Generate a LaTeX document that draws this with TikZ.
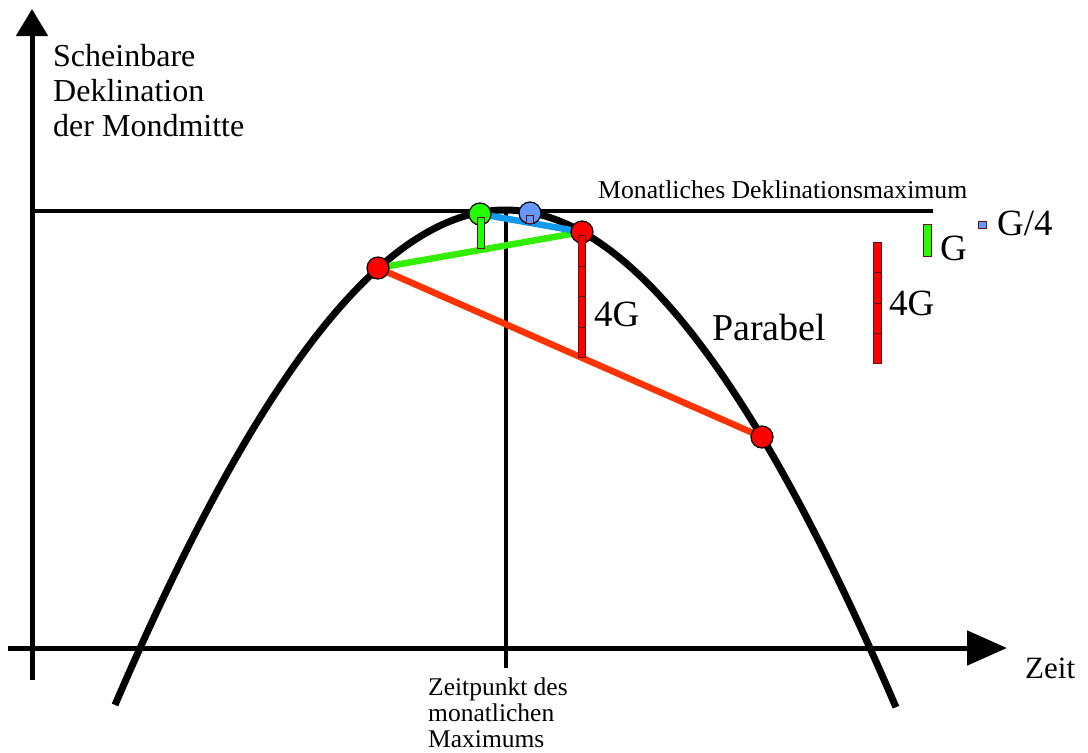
\documentclass[tikz,border=0pt]{standalone}
\usepackage{fontspec}
\setmainfont{Liberation Serif}
\usetikzlibrary{arrows.meta}
\definecolor{ptred}{HTML}{FF0000}
\definecolor{chordred}{HTML}{FF3300}
\definecolor{chordgreen}{HTML}{33EE00}
\definecolor{ptgreen}{HTML}{22FF00}
\definecolor{chordblue}{HTML}{1199EE}
\definecolor{ptblue}{HTML}{6699FF}
\definecolor{barline}{HTML}{661111}
\begin{document}
\begin{tikzpicture}[x=1pt,y=-1pt,
  axis/.style={line width=5pt},
  guide/.style={line width=3.5pt},
  curve/.style={line width=7pt},
  chord/.style={line width=6.5pt},
  dot/.style={circle,draw=black,line width=1.2pt,minimum size=22pt,inner sep=0pt},
  bar/.style={draw=barline,line width=0.8pt},
  lbl/.style={anchor=base west,inner sep=0pt},
  big/.style={font=\fontsize{37}{40}\selectfont},
]
\useasboundingbox (0,0) rectangle (1088,753);

% guide lines
\coordinate (gl) at (32,211);
\coordinate (gr) at (933,211);
\coordinate (vt) at (506,210);
\coordinate (vb) at (506,668);
\draw[guide] (gl) -- (gr);
\draw[guide] (vt) -- (vb);

% axes
\coordinate (ybot) at (32,680);
\coordinate (ytop) at (32,9);
\coordinate (xleft) at (8,648);
\coordinate (xright) at (1007,648);
\draw[axis,-{Triangle[length=27pt,width=31pt]}] (ybot) -- (ytop);
\draw[axis,-{Triangle[length=40pt,width=34pt]}] (xleft) -- (xright);

% parabola
\draw[curve] plot[domain=-3.9:3.91,samples=120,smooth]
  ({505+100*\x},{210+38*\x*\x-1.4*abs(\x)*\x*\x});

% points
\coordinate (pL) at (378,268);
\coordinate (pR) at (762,437);
\coordinate (pU) at (582,232);
\coordinate (pG) at (480,214);
\coordinate (pB) at (530,213);

% chords
\draw[chord,chordred] (pL) -- (pR);
\draw[chord,chordgreen] (pL) -- (pU);
\draw[chord,chordblue] (pG) -- (pU);

% dots
\node[dot,fill=ptred] (dL) at (pL) {};
\node[dot,fill=ptred] (dR) at (pR) {};
\node[dot,fill=ptred] (dU) at (pU) {};
\node[dot,fill=ptgreen] (dG) at (pG) {};
\node[dot,fill=ptblue] (dB) at (pB) {};

% bars on the curve
\draw[bar,fill=ptgreen] (477,217) rectangle (484,248);
\draw[bar,fill=ptblue] (526,215) rectangle (533,223);
\draw[bar,fill=ptred] (578,235) rectangle (585,357);
\draw[bar] (578,266) -- (585,266) (578,296) -- (585,296) (578,327) -- (585,327);

% scale on the right
\draw[bar,fill=ptred] (873,242) rectangle (881,363);
\draw[bar] (873,272) -- (881,272) (873,303) -- (881,303) (873,333) -- (881,333);
\draw[bar,fill=ptgreen] (923,224) rectangle (931,256);
\draw[bar,fill=ptblue] (978,221) rectangle (986,228);

% labels
\node[lbl,font=\fontsize{32}{34}\selectfont] (y1) at (53,66) {Scheinbare};
\node[lbl,font=\fontsize{32}{34}\selectfont] (y2) at (53,101) {Deklination};
\node[lbl,font=\fontsize{32}{34}\selectfont] (y3) at (53,136) {der Mondmitte};
\node[lbl,font=\fontsize{25.7}{27}\selectfont] (mx) at (598,198) {Monatliches Deklinationsmaximum};
\node[lbl,font=\fontsize{38}{40}\selectfont] (par) at (712,340) {Parabel};
\node[lbl,big] (g4m) at (594,326) {4G};
\node[lbl,big] (g4r) at (889,315) {4G};
\node[lbl,big] (g1) at (940,260) {G};
\node[lbl,big] (gq) at (997,235) {G/4};
\node[lbl,font=\fontsize{31}{33}\selectfont] (zeit) at (1025,678) {Zeit};
\node[lbl,font=\fontsize{25.5}{27}\selectfont] (t1) at (428,695) {Zeitpunkt des};
\node[lbl,font=\fontsize{25.5}{27}\selectfont] (t2) at (428,721) {monatlichen};
\node[lbl,font=\fontsize{25.5}{27}\selectfont] (t3) at (428,747) {Maximums};
\end{tikzpicture}
\end{document}
